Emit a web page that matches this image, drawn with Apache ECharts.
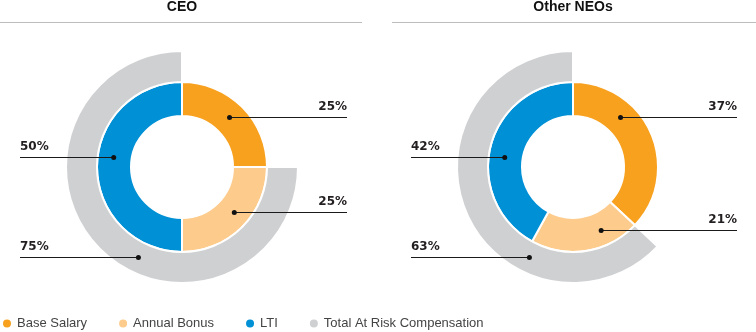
<!DOCTYPE html>
<html>
<head>
<meta charset="utf-8">
<script src="https://cdn.jsdelivr.net/npm/echarts@6/dist/echarts.min.js"></script>
<style>
  html, body { margin: 0; padding: 0; background: #fff; }
  #chart { width: 756px; height: 332px; }
</style>
</head>
<body>
<div id="chart"></div>
<script>
// ---- Data ----
const panelTitles = ['CEO', 'Other NEOs'];
const categories = ['Base Salary', 'Annual Bonus', 'LTI'];
const ceoValues = [25, 25, 50];
const neoValues = [37, 21, 42];
const riskName = 'Total At Risk Compensation';
const ceoRisk = 75;
const neoRisk = 63;

// ---- Styles / layout ----
const COLORS = ['#F7A11F', '#FDCB8C', '#0090D6'];
const RISK_COLOR = '#CFD0D2';
const INNER_RADIUS = [51, 85];
const OUTER_RADIUS = [85, 116];
const INNER_DOT_R = 69;
const OUTER_DOT_R = 100;
const LABEL_FONT = { fontFamily: 'DejaVu Sans', fontWeight: 'bold', fontSize: 12, color: '#231F20' };

const PANELS = [
  { title: panelTitles[0], values: ceoValues, risk: ceoRisk, center: [182, 167],
    lineLeft: 20, lineRight: 347, rule: [0, 362],
    innerY: [117, 212, 157], outerY: 257 },
  { title: panelTitles[1], values: neoValues, risk: neoRisk, center: [573, 167],
    lineLeft: 411, lineRight: 737, rule: [392, 756],
    innerY: [117, 230, 157], outerY: 257 }
];
const INNER_SIDE = ['right', 'right', 'left'];
const OUTER_SIDE = 'left';

function dotX(center, r, y, side) {
  const dy = y - center[1];
  const dx = Math.sqrt(Math.max(0, r * r - dy * dy));
  return side === 'right' ? center[0] + dx : center[0] - dx;
}

function makeLayout(panel, ring) {
  return function (params) {
    let y, side;
    if (ring === 'inner') {
      y = panel.innerY[params.dataIndex];
      side = INNER_SIDE[params.dataIndex];
    } else {
      y = panel.outerY; side = OUTER_SIDE;
    }
    const endX = side === 'right' ? panel.lineRight : panel.lineLeft;
    return {
      x: endX,
      y: y - 4,
      align: side,
      verticalAlign: 'bottom'
    };
  };
}

const series = [];
const graphics = [];
const titles = [];

function addLeader(panel, r, y, side) {
  const dx = dotX(panel.center, r, y, side);
  const endX = side === 'right' ? panel.lineRight : panel.lineLeft;
  graphics.push({
    type: 'line', z: 100,
    shape: { x1: dx, y1: y + 0.5, x2: endX, y2: y + 0.5 },
    style: { stroke: '#1a1a1a', lineWidth: 1 }
  });
  graphics.push({
    type: 'circle', z: 101,
    shape: { cx: dx, cy: y + 0.5, r: 2.5 },
    style: { fill: '#111' }
  });
}

PANELS.forEach(function (panel) {
  titles.push({
    text: panel.title, left: panel.center[0], top: 0, textAlign: 'center', padding: 0,
    textStyle: { fontFamily: 'Liberation Sans', fontWeight: 'bold', fontSize: 14, color: '#111' }
  });
  graphics.push({
    type: 'line', z: 100,
    shape: { x1: panel.rule[0], y1: 22.5, x2: panel.rule[1], y2: 22.5 },
    style: { stroke: '#BDBDBD', lineWidth: 1 }
  });

  series.push({
    type: 'pie',
    center: panel.center,
    radius: INNER_RADIUS,
    startAngle: 90,
    clockwise: true,
    animation: false,
    silent: true,
    emphasis: { disabled: true },
    itemStyle: { borderColor: '#fff', borderWidth: 2 },
    label: Object.assign({ show: true, position: 'outside', formatter: '{c}%' }, LABEL_FONT),
    labelLine: { show: false },
    labelLayout: makeLayout(panel, 'inner'),
    data: categories.map(function (c, i) {
      return { name: c, value: panel.values[i], itemStyle: { color: COLORS[i] } };
    })
  });

  series.push({
    type: 'pie',
    center: panel.center,
    radius: OUTER_RADIUS,
    startAngle: 90,
    clockwise: true,
    animation: false,
    silent: true,
    emphasis: { disabled: true },
    itemStyle: { borderColor: '#fff', borderWidth: 2 },
    label: Object.assign({ show: true, position: 'outside', formatter: '{c}%' }, LABEL_FONT),
    labelLine: { show: false },
    labelLayout: makeLayout(panel, 'outer'),
    data: [
      { name: '', value: 100 - panel.risk, itemStyle: { color: 'rgba(0,0,0,0)', borderWidth: 0 },
        label: { show: false } },
      { name: riskName, value: panel.risk, itemStyle: { color: RISK_COLOR } }
    ]
  });

  categories.forEach(function (c, i) {
    addLeader(panel, INNER_DOT_R, panel.innerY[i], INNER_SIDE[i]);
  });
  addLeader(panel, OUTER_DOT_R, panel.outerY, OUTER_SIDE);
});

const chart = echarts.init(document.getElementById('chart'), null, { renderer: 'canvas' });
chart.setOption({
  backgroundColor: '#fff',
  animation: false,
  title: titles,
  legend: {
    data: categories.concat([riskName]),
    left: 1,
    top: 317,
    icon: 'circle',
    itemWidth: 10,
    itemHeight: 10,
    itemGap: 30,
    padding: 0,
    selectedMode: false,
    textStyle: { fontFamily: 'Liberation Sans', fontSize: 13, color: '#444' }
  },
  graphic: graphics,
  series: series
});
</script>
</body>
</html>
